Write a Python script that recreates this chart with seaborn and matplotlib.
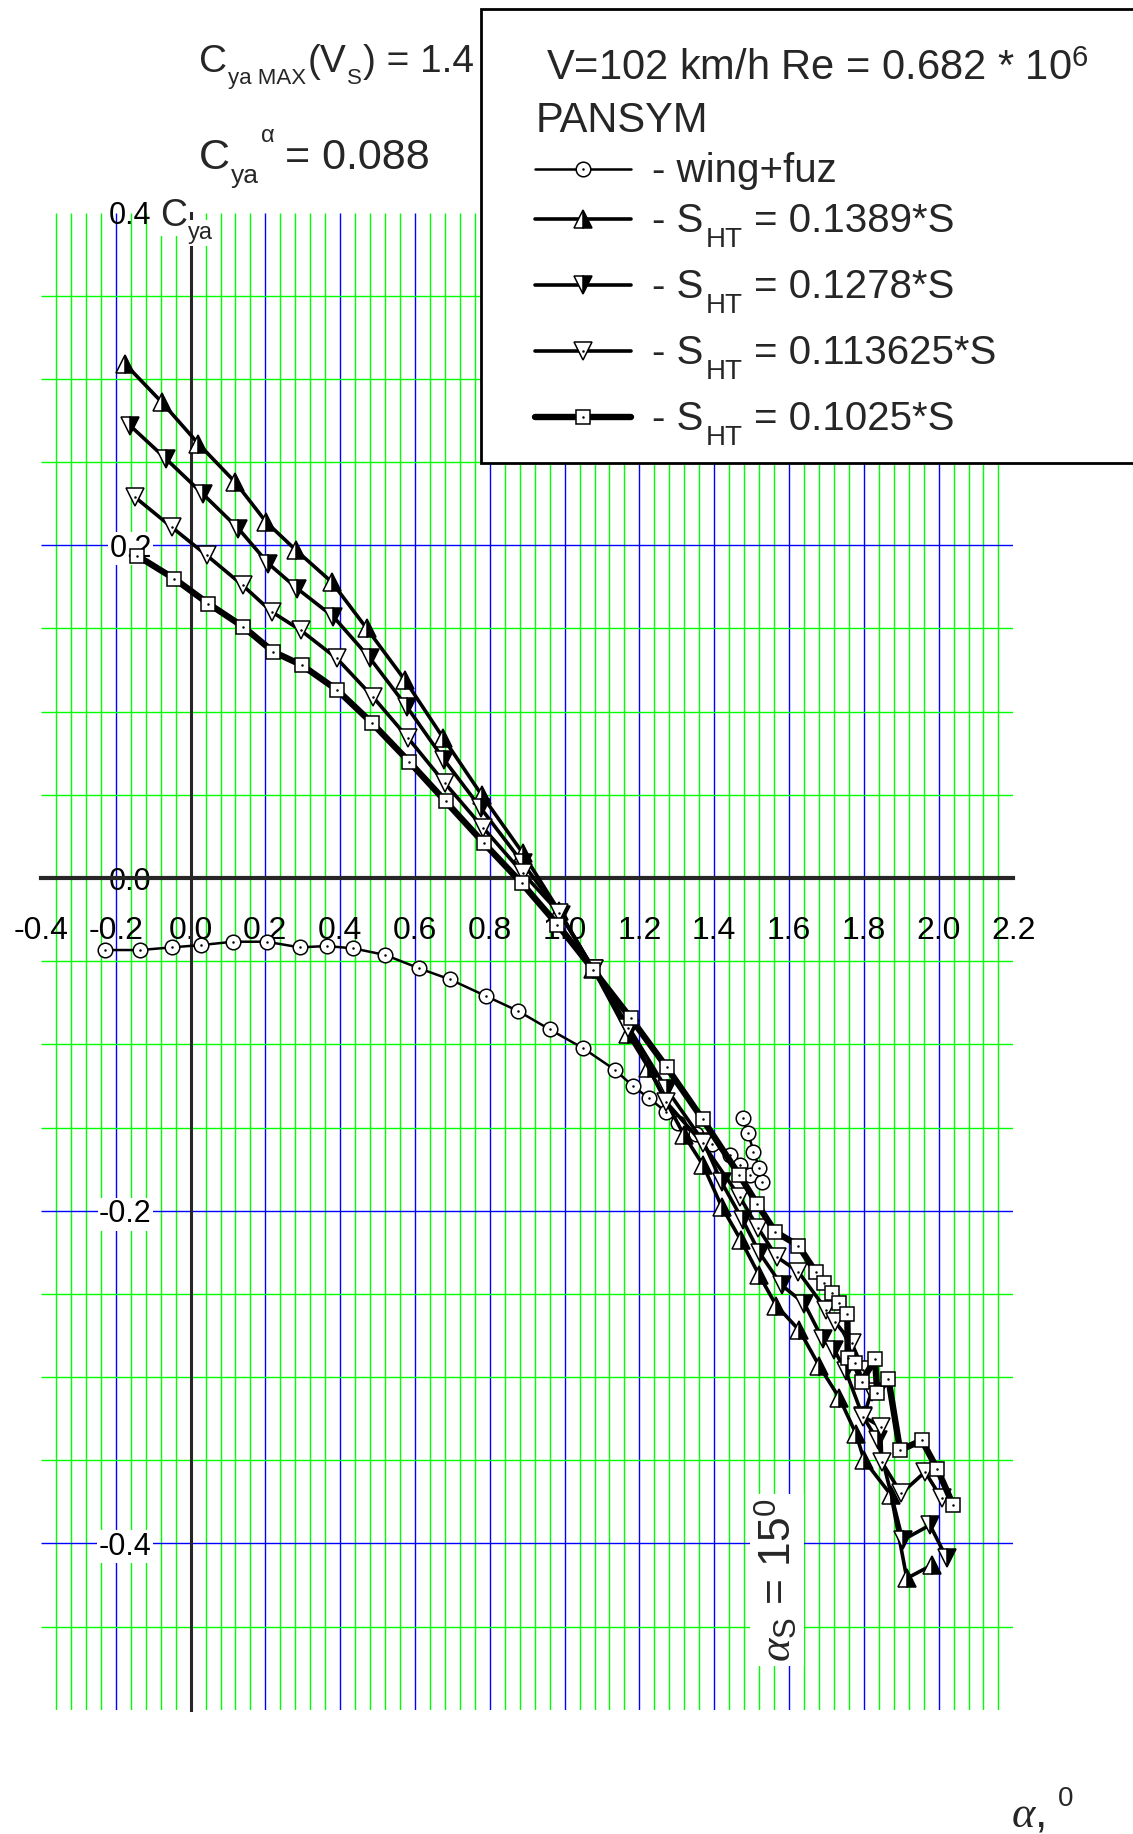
import numpy as np
import matplotlib
matplotlib.use("Agg")
import matplotlib.pyplot as plt
from matplotlib.lines import Line2D
from matplotlib.patches import Rectangle
import seaborn as sns

# ---------------- data ----------------
wing_x = [-0.228, -0.135, -0.050, 0.029, 0.114, 0.203, 0.292, 0.364, 0.435, 0.521,
          0.611, 0.694, 0.790, 0.876, 0.960, 1.050, 1.135, 1.182, 1.226, 1.271,
          1.304, 1.350, 1.395, 1.441, 1.469, 1.496, 1.527, 1.521, 1.505, 1.491, 1.476]
wing_y = [-0.0433, -0.0433, -0.0417, -0.0403, -0.0383, -0.0383, -0.0417, -0.0409, -0.0423, -0.0463,
          -0.0543, -0.0610, -0.0710, -0.0800, -0.0910, -0.1024, -0.1154, -0.1250, -0.1325, -0.1405,
          -0.1475, -0.1540, -0.1600, -0.1667, -0.1725, -0.1785, -0.1830, -0.1745, -0.1645, -0.1535, -0.1445]

s1389_x = [-0.175, -0.077, 0.021, 0.119, 0.202, 0.282, 0.377, 0.471, 0.573, 0.676,
           0.778, 0.888, 0.986, 1.077, 1.170, 1.224, 1.319, 1.370, 1.420, 1.471,
           1.520, 1.566, 1.628, 1.681, 1.735, 1.779, 1.801, 1.873, 1.915, 1.982]
s1389_y = [0.309, 0.286, 0.261, 0.238, 0.214, 0.197, 0.178, 0.150, 0.119, 0.084,
           0.050, 0.015, -0.020, -0.055, -0.094, -0.114, -0.1545, -0.1725, -0.1976, -0.2176,
           -0.2387, -0.2570, -0.2720, -0.2934, -0.3127, -0.3340, -0.3500, -0.3710, -0.4210, -0.4130]

s1278_x = [-0.162, -0.066, 0.032, 0.128, 0.208, 0.285, 0.382, 0.480, 0.578, 0.678,
           0.776, 0.888, 0.990, 1.078, 1.175, 1.273, 1.371, 1.420, 1.476, 1.522,
           1.580, 1.641, 1.690, 1.721, 1.752, 1.797, 1.837, 1.904, 1.977, 2.022]
s1278_y = [0.272, 0.252, 0.231, 0.210, 0.189, 0.174, 0.157, 0.132, 0.103, 0.071,
           0.042, 0.009, -0.022, -0.055, -0.091, -0.127, -0.1585, -0.1830, -0.2056, -0.2256,
           -0.2447, -0.2558, -0.2773, -0.2837, -0.2966, -0.3234, -0.3380, -0.3980, -0.3890, -0.4090]

s1136_x = [-0.149, -0.051, 0.043, 0.139, 0.217, 0.294, 0.391, 0.487, 0.582, 0.680,
           0.783, 0.888, 0.986, 1.078, 1.170, 1.271, 1.369, 1.469, 1.518, 1.567,
           1.625, 1.700, 1.723, 1.768, 1.799, 1.821, 1.799, 1.845, 1.848, 1.900, 1.964, 2.008]
s1136_y = [0.229, 0.211, 0.194, 0.176, 0.160, 0.149, 0.132, 0.109, 0.084, 0.057,
           0.030, 0.003, -0.021, -0.055, -0.090, -0.1345, -0.1595, -0.1920, -0.2106, -0.2277,
           -0.2367, -0.2597, -0.2667, -0.2797, -0.2958, -0.3088, -0.3238, -0.3298, -0.3510, -0.3700, -0.3570, -0.3730]

s1025_x = [-0.142, -0.044, 0.047, 0.141, 0.221, 0.297, 0.392, 0.486, 0.584, 0.682,
           0.784, 0.885, 0.981, 1.077, 1.177, 1.273, 1.369, 1.467, 1.515, 1.563,
           1.625, 1.672, 1.694, 1.714, 1.734, 1.756, 1.757, 1.776, 1.794, 1.830,
           1.836, 1.866, 1.897, 1.955, 1.997, 2.039]
s1025_y = [0.1936, 0.180, 0.165, 0.151, 0.136, 0.128, 0.113, 0.093, 0.070, 0.046,
           0.021, -0.003, -0.028, -0.0553, -0.0843, -0.1138, -0.145, -0.1785, -0.196, -0.2126,
           -0.221, -0.237, -0.2433, -0.2493, -0.2553, -0.2621, -0.2887, -0.2914, -0.3028, -0.2893,
           -0.3094, -0.3014, -0.344, -0.338, -0.3555, -0.377]

# legend labels: (text before subscript, subscript, text after)
series_labels = [("- wing+fuz", "", ""),
                 ("- S", "HT", "= 0.1389*S"),
                 ("- S", "HT", "= 0.1278*S"),
                 ("- S", "HT", "= 0.113625*S"),
                 ("- S", "HT", "= 0.1025*S")]

xtick_vals = [-0.4, -0.2, 0.0, 0.2, 0.4, 0.6, 0.8, 1.0, 1.2, 1.4, 1.6, 1.8, 2.0, 2.2]
xtick_labels = ["-0.4", "-0.2", "0.0", "0.2", "0.4", "0.6", "0.8", "1.0",
                "1.2", "1.4", "1.6", "1.8", "2.0", "2.2"]
ytick_vals = [0.4, 0.2, 0.0, -0.2, -0.4]
ytick_labels = ["0.4", "0.2", "0.0", "-0.2", "-0.4"]

# ---------------- style ----------------
sns.set_style("white")
plt.rcParams["font.family"] = ["Liberation Sans", "DejaVu Sans"]
plt.rcParams.update({
    "mathtext.fontset": "custom",
    "mathtext.rm": "Liberation Sans",
    "mathtext.it": "Liberation Serif:italic",
    "mathtext.bf": "Liberation Sans:bold",
})

W, H = 1133, 1834
fig = plt.figure(figsize=(W / 100, H / 100), dpi=100)
fig.patch.set_facecolor("white")
renderer = fig.canvas.get_renderer()


def fx(px):
    return px / W


def fy(py):
    return 1 - py / H


def rich(x_px, base_px, parts, zorder=3, bbox=None):
    """Lay out text pieces left to right: (text, size, drop_px, gap_px)."""
    x = x_px
    for txt, size, drop, gap in parts:
        x += gap
        t = fig.text(fx(x), fy(base_px + drop), txt, fontsize=size, va="baseline",
                     ha="left", zorder=zorder, bbox=bbox)
        x += t.get_window_extent(renderer).width
    return x


ax = fig.add_axes([fx(41), fy(1709.75), (1013.4 - 41) / W, (1709.75 - 212.6) / H])
ax.set_xlim(-0.4, 2.2)
ax.set_ylim(-0.5, 0.4)
ax.set_facecolor("none")

# grid: green every 0.04 / 0.05, blue every 0.2
GREEN, BLUE = "#00ff00", "#0000ff"
vi = np.arange(-9, 55)
ax.vlines(np.round(vi * 0.04, 2), -0.5, 0.4,
          colors=[BLUE if i % 5 == 0 else GREEN for i in vi], lw=1.0, zorder=0.5)
hi = np.arange(-9, 8)
ax.hlines(np.round(hi * 0.05, 2), -0.4, 2.2,
          colors=[BLUE if i % 4 == 0 else GREEN for i in hi], lw=1.0, zorder=0.5)

# axes crossing at the origin
for s in ["top", "right"]:
    ax.spines[s].set_visible(False)
ax.spines["left"].set_position(("data", 0))
ax.spines["bottom"].set_position(("data", 0))
ax.spines["bottom"].set_linewidth(3.0)
ax.spines["left"].set_linewidth(2.2)
ax.set_xticks(xtick_vals, xtick_labels)
ax.set_yticks(ytick_vals, ytick_labels)
ax.tick_params(axis="x", direction="out", length=17, width=2.6, pad=10,
               labelsize=23, colors="black")
ax.tick_params(axis="y", direction="out", length=16, width=2.2, pad=12,
               labelsize=22, colors="black")
for lbl in ax.get_yticklabels():
    if lbl.get_text() not in ("0.0", "0.4"):
        lbl.set_bbox(dict(facecolor="white", edgecolor="none", pad=1))


def draw(xs, ys, lw, marker, ms, z, fill="full", face="white", alt="white", dot=True):
    sns.lineplot(x=xs, y=ys, sort=False, estimator=None, color="black", lw=lw,
                 marker=marker, ms=ms, markeredgecolor="black", markeredgewidth=1.1,
                 markerfacecolor=face, markerfacecoloralt=alt, fillstyle=fill,
                 zorder=z, ax=ax, legend=False)
    main = ax.lines[-1]
    dots = None
    if dot:
        dots = ax.plot(xs, ys, ls="none", marker="o", ms=1.8, color="black",
                       mew=0, zorder=z + 0.1)[0]
    return main, dots


handles = [
    draw(wing_x, wing_y, 1.8, "o", 10.5, 3),
    draw(s1389_x, s1389_y, 2.6, "^", 13, 4, fill="right", face="black", dot=False),
    draw(s1278_x, s1278_y, 2.6, "v", 13, 5, fill="right", face="black", dot=False),
    draw(s1136_x, s1136_y, 2.6, "v", 13, 6),
    draw(s1025_x, s1025_y, 4.6, "s", 10, 7),
]

# axis annotations
white = dict(facecolor="white", edgecolor="none", pad=1.5)
rich(160, 226, [("C", 27, 0, 0), ("ya", 17, 13, 1)], zorder=3, bbox=white)
ax.text(1.568, -0.422, r"$\alpha_{\mathrm{S}}$ = 15$^{0}$", rotation=90, fontsize=32,
        ha="center", va="center", bbox=dict(facecolor="white", edgecolor="none", pad=3),
        zorder=8)
fig.text(fx(1011), fy(1826), r"$\alpha$,", fontsize=32, va="baseline")
fig.text(fx(1058), fy(1806), "0", fontsize=20, va="baseline")

# headline values
rich(199, 72, [("C", 28, 0, 0), ("ya MAX", 16, 12, 1), ("(V", 28, 0, 1),
               ("S", 16, 12, 1), (") = 1.4", 28, 0, 1)])
rich(199, 169, [("C", 31, 0, 0), ("ya", 19, 14, 1), ("\u03b1", 17, -27, 2),
                ("= 0.088", 31, 0, 10)])

# legend panel
fig.add_artist(Rectangle((fx(481), fy(463)), 0.7, (463 - 9) / H, transform=fig.transFigure,
                         facecolor="white", edgecolor="black", lw=2.0, zorder=10))
fig.text(fx(546), fy(80), r"V=102 km/h Re = 0.682 * 10$^{6}$", fontsize=30,
         va="baseline", zorder=11)
fig.text(fx(536), fy(132), "PANSYM", fontsize=30, va="baseline", zorder=11)


def legend_copy(src, xs, ys, z):
    ln = Line2D(xs, ys)
    ln.update_from(src)
    ln.set_transform(fig.transFigure)
    ln.set_clip_on(False)
    ln.set_clip_box(None)
    ln.set_clip_path(None)
    ln.set_zorder(z)
    fig.add_artist(ln)
    return ln


row_y = [169, 219, 285, 351, 417]
for (main, dots), (pre, sub, post), ry in zip(handles, series_labels, row_y):
    seg = legend_copy(main, [fx(535), fx(631)], [fy(ry), fy(ry)], 11)
    seg.set_marker("None")
    mk = legend_copy(main, [fx(583)], [fy(ry)], 12)
    mk.set_linestyle("None")
    if dots is not None:
        legend_copy(dots, [fx(583)], [fy(ry)], 13)
    parts = [(pre, 29, 0, 0)]
    if sub:
        parts += [(sub, 20, 15, 2), (post, 29, 0, 12)]
    rich(652, ry + 13, parts, zorder=11)

fig.savefig("out.png", dpi=100, facecolor="white")
